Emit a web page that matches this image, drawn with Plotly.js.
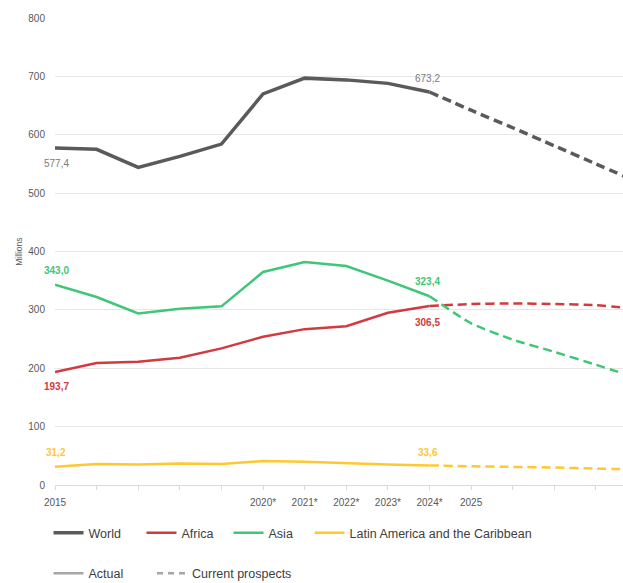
<!DOCTYPE html>
<html>
<head>
<meta charset="utf-8">
<script src="https://cdn.plot.ly/plotly-3.0.1.min.js"></script>
<style>html,body{margin:0;padding:0;background:#fff;}#chart{width:623px;height:583px;}</style>
</head>
<body>
<div id="chart"></div>
<script>
// Years (actual) and projection years
var yearsActual = [2015, 2016, 2017, 2018, 2019, 2020, 2021, 2022, 2023, 2024];
var yearsProspects = [2024, 2025, 2026, 2027, 2028, 2029];
var tickYears = [2015, 2016, 2017, 2018, 2019, 2020, 2021, 2022, 2023, 2024, 2025, 2026, 2027, 2028];
var tickLabels = ["2015", "", "", "", "", "2020*", "2021*", "2022*", "2023*", "2024*", "2025", "", "", ""];

// Series values (millions)
var worldActual = [577.4, 575, 544, 563, 584, 670, 697, 694, 688, 673.2];
var worldProspects = [673.2, 642, 612, 581, 550, 519];
var africaActual = [193.7, 209, 211, 218, 234, 254, 267, 272, 295, 306.5];
var africaProspects = [306.5, 310, 311, 310, 308, 302];
var asiaActual = [343.0, 322, 294, 302, 306, 365, 382, 375, 350, 323.4];
var asiaProspects = [323.4, 277, 249, 228, 206, 183];
var latamActual = [31.2, 36, 35, 37, 36, 41, 40, 37, 35, 33.6];
var latamProspects = [33.6, 32, 31, 30, 28, 27];

var seriesNames = ["World", "Africa", "Asia", "Latin America and the Caribbean"];
var styleNames = ["Actual", "Current prospects"];

// Value labels
var labelText = ["577,4", "673,2", "343,0", "323,4", "193,7", "306,5", "31,2", "33,6"];
var labelYear = [2015, 2024, 2015, 2024, 2015, 2024, 2015, 2024];
var labelPos = [550, 697, 367, 348, 168, 279, 56.5, 55];

var FONT = "'Liberation Sans', Arial, sans-serif";
var cWorld = "#5a5a5a", cAfrica = "#d13b3f", cAsia = "#3fc777", cLatam = "#ffc730";
var dashP = "9px,5px";

var traces = [
  {x: yearsActual, y: worldActual, name: seriesNames[0], mode: "lines", line: {color: cWorld, width: 3.5}, legend: "legend"},
  {x: yearsActual, y: africaActual, name: seriesNames[1], mode: "lines", line: {color: cAfrica, width: 2.5}, legend: "legend3"},
  {x: yearsActual, y: asiaActual, name: seriesNames[2], mode: "lines", line: {color: cAsia, width: 2.5}, legend: "legend4"},
  {x: yearsActual, y: latamActual, name: seriesNames[3], mode: "lines", line: {color: cLatam, width: 2.5}, legend: "legend5"},
  {x: yearsProspects, y: worldProspects, mode: "lines", showlegend: false, line: {color: cWorld, width: 3.5, dash: dashP, shape: "spline", smoothing: 0.5}},
  {x: yearsProspects, y: africaProspects, mode: "lines", showlegend: false, line: {color: cAfrica, width: 2.5, dash: dashP, shape: "spline", smoothing: 0.6}},
  {x: yearsProspects, y: asiaProspects, mode: "lines", showlegend: false, line: {color: cAsia, width: 2.5, dash: dashP, shape: "spline", smoothing: 0.6}},
  {x: yearsProspects, y: latamProspects, mode: "lines", showlegend: false, line: {color: cLatam, width: 2.5, dash: dashP, shape: "spline", smoothing: 0.6}},
  {x: [null], y: [null], name: styleNames[0], mode: "lines", line: {color: "#a6a6a6", width: 2.5}, legend: "legend2"},
  {x: [null], y: [null], name: styleNames[1], mode: "lines", line: {color: "#a6a6a6", width: 2.5, dash: "6px,5px"}, legend: "legend6"}
];

var labelColors = ["#7a7a7a", "#7a7a7a", cAsia, cAsia, cAfrica, cAfrica, cLatam, cLatam];
var annotations = labelText.map(function (t, i) {
  return {
    x: labelYear[i], y: labelPos[i], xref: "x", yref: "y", text: i < 2 ? t : "<b>" + t + "</b>",
    showarrow: false, xshift: i % 2 === 0 ? 1 : -2,
    font: {family: FONT, size: 10, color: labelColors[i]}
  };
});
annotations.push({
  xref: "paper", yref: "paper", x: -0.076, y: 0.499, text: "Millions", textangle: -90,
  showarrow: false, font: {family: FONT, size: 8.5, color: "#595959"}
});

function mkLegend(x, y) {
  return {
    orientation: "h", x: x, y: y, xanchor: "left", yanchor: "middle",
    bgcolor: "rgba(0,0,0,0)", font: {family: FONT, size: 12.5, color: "#404040"},
    traceorder: "normal", itemclick: false
  };
}
var row1 = -0.103, row2 = -0.19;

var layout = {
  width: 623, height: 583,
  margin: {l: 55, r: 0, t: 18, b: 98, autoexpand: false},
  paper_bgcolor: "#ffffff", plot_bgcolor: "#ffffff",
  font: {family: FONT, color: "#595959"},
  showlegend: true,
  xaxis: {
    range: [2015, 2028.65], tickmode: "array", tickvals: tickYears, ticktext: tickLabels,
    showgrid: false, zeroline: false, showline: true, linecolor: "#d9d9d9", linewidth: 1,
    ticks: "outside", ticklen: 4, tickcolor: "#d9d9d9", ticklabelstandoff: 4,
    tickfont: {family: FONT, size: 10, color: "#595959"}
  },
  yaxis: {
    range: [0, 800], dtick: 100, tick0: 0, showgrid: true, gridcolor: "#e6e6e6", gridwidth: 1,
    zeroline: false, showline: false, ticks: "", ticklabelstandoff: 9,
    tickfont: {family: FONT, size: 10, color: "#595959"}
  },
  legend: mkLegend(-0.0114, row1),
  legend3: mkLegend(0.1523, row1),
  legend4: mkLegend(0.3055, row1),
  legend5: mkLegend(0.4481, row1),
  legend2: mkLegend(-0.0114, row2),
  legend6: mkLegend(0.1708, row2),
  annotations: annotations
};

Plotly.newPlot("chart", traces, layout, {displayModeBar: false, staticPlot: true});
</script>
</body>
</html>
